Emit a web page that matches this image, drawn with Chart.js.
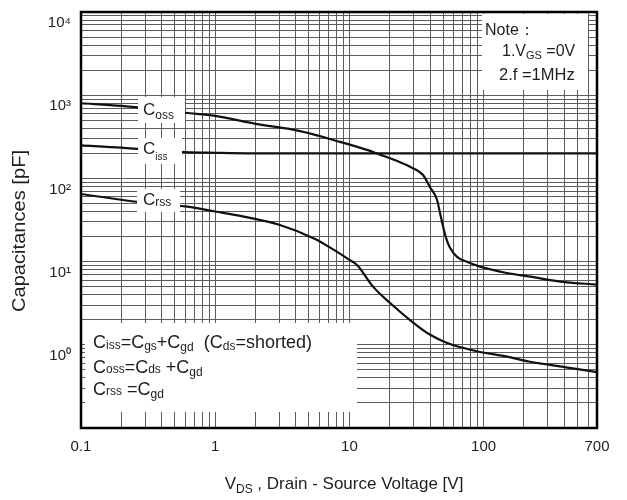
<!DOCTYPE html>
<html><head><meta charset="utf-8">
<script src="https://cdn.jsdelivr.net/npm/chart.js@4.4.1/dist/chart.umd.min.js"></script>
<style>html,body{margin:0;padding:0;background:#fff}#wrap{width:627px;height:500px;position:relative}</style>
</head><body><div id="wrap"><canvas id="c"></canvas></div>
<script>
// ---- data ----
const vdsCoss = [0.1,0.2,0.3,0.6,1,2,4.3,8.5,13.5,16.9,22,28.3,35.4,39.8,45,47.3,49.8,52.5,56.2,63.4,75,94,149,222,389,700];
const coss    = [800,745,700,615,565,453,370,275,220,193,165,138,110,79,55,38.6,26.9,19.3,14.7,11.4,9.95,8.7,7.3,6.6,5.7,5.3];
const vdsCiss = [0.1,0.2,0.3,0.6,1,2,10,100,700];
const ciss    = [250,234,222,207,203,200,200,200,200];
const vdsCrss = [0.1,0.27,0.6,1,1.6,3,5.5,7.2,10,11.4,15,20,30,40,53,70,94,150,222,400,700];
const crss    = [65,52,46,40,35,27.7,18.8,14.7,10.5,9.1,5.0,3.2,1.84,1.32,1.06,0.92,0.82,0.72,0.625,0.54,0.47];
const xTickValues = [0.1,1,10,100,700];
const xTickLabels = ['0.1','1','10','100','700'];
const yTickValues = [1,10,100,1000,10000];
const yTickLabels = ['10\u2070','10\u00b9','10\u00b2','10\u00b3','10\u2074'];
const xMin = 0.1, xMax = 700, yMin = 0.1, yMax = 10000;
const yTitle = 'Capacitances [pF]';

function logGrid(lo, hi){
  const out=[];
  for(let d=Math.pow(10,Math.floor(Math.log10(lo))); d<=hi; d*=10){
    for(let k=1;k<=9;k++){ const v=parseFloat((k*d).toPrecision(6)); if(v>=lo-1e-9 && v<=hi+1e-9) out.push(v); }
  }
  return out;
}
const xGridValues = logGrid(xMin,xMax);
const yGridValues = logGrid(yMin,yMax);
function labelFor(vals, labels, v){
  const i = vals.findIndex(t=>Math.abs(Math.log10(t)-Math.log10(v))<1e-6);
  return i>=0 ? labels[i] : '';
}
const FONT = '"Liberation Sans", Arial, sans-serif';
const INK = '#1e1e1e';
function rich(ctx,x,y,segs){
  let cx=x;
  for(const s of segs){ ctx.font=s[1]+'px '+FONT; ctx.fillText(s[0],cx,y+(s[2]||0)); cx+=ctx.measureText(s[0]).width; }
  return cx;
}
const pts=(xs,ys)=>xs.map((v,i)=>({x:v,y:ys[i]}));

const deco = {
  id:'deco',
  beforeDatasetsDraw(chart){
    const {ctx, chartArea:a} = chart;
    ctx.save(); ctx.fillStyle='#fff';
    ctx.fillRect(a.left+4, a.top+311, 272, 89);
    ctx.fillRect(a.left+401, a.top+2, 106, 76);
    ctx.restore();
  },
  afterDatasetsDraw(chart){
    const {ctx, chartArea:a} = chart;
    ctx.save();
    ctx.fillStyle='#fff';
    ctx.fillRect(a.left+57, a.top+85, 47, 26);
    ctx.fillRect(a.left+57, a.top+126, 44, 26);
    ctx.fillRect(a.left+56, a.top+177, 43, 23);
    ctx.fillStyle=INK; ctx.textBaseline='alphabetic'; ctx.textAlign='left';
    rich(ctx, a.left+62, a.top+103, [['C',17,0],['oss',12,4]]);
    rich(ctx, a.left+62, a.top+142, [['C',17,0],['iss',10,6]]);
    rich(ctx, a.left+62, a.top+193, [['C',17,0],['rss',12,1]]);
    rich(ctx, a.left+404, a.top+23, [['Note\uff1a',16,0]]);
    rich(ctx, a.left+421, a.top+44, [['1.V',16,0],['GS',11,3],[' =0V',16,0]]);
    rich(ctx, a.left+418, a.top+68, [['2.f =1MHz',16.5,0]]);
    rich(ctx, a.left+12, a.top+336, [['C',18,0],['iss',12,1],['=C',18,0],['gs',12,2],['+C',18,0],['gd',12,3],['  (C',18,0],['ds',12,2],['=shorted)',18,0]]);
    rich(ctx, a.left+12, a.top+361, [['C',18,0],['oss',12,0],['=C',18,0],['ds',12,0],[' +C',18,0],['gd',12,3]]);
    rich(ctx, a.left+12, a.top+383, [['C',18,0],['rss',12,0],[' =C',18,0],['gd',12,3]]);
    ctx.strokeStyle='#000'; ctx.lineWidth=2.5;
    ctx.strokeRect(a.left, a.top, a.right-a.left, a.bottom-a.top);
    ctx.restore();
  },
  afterDraw(chart){
    const {ctx, chartArea:a} = chart;
    ctx.save(); ctx.fillStyle=INK; ctx.textBaseline='alphabetic';
    const segs=[['V',17,0],['DS',12,4],[' , Drain - Source Voltage [V]',17,0]];
    let w=0; for(const s of segs){ ctx.font=s[1]+'px '+FONT; w+=ctx.measureText(s[0]).width; }
    rich(ctx, (a.left+a.right)/2 - w/2 + 5, a.bottom+61, segs);
    // y axis title (slightly stretched along its length, like the reference)
    ctx.font='18px '+FONT; ctx.textAlign='center'; ctx.textBaseline='middle';
    const tw = ctx.measureText(yTitle).width;
    ctx.translate(20, (a.top+a.bottom)/2 + 11);
    ctx.rotate(-Math.PI/2);
    ctx.scale(162/tw, 1);
    ctx.fillText(yTitle, 0, 0);
    ctx.restore();
  }
};

const lineStyle = {borderColor:'#111', borderWidth:2.2, pointRadius:0, fill:false, cubicInterpolationMode:'monotone'};
new Chart(document.getElementById('c'), {
  type:'line',
  data:{datasets:[
    Object.assign({label:'Coss', data:pts(vdsCoss,coss)}, lineStyle),
    Object.assign({label:'Ciss', data:pts(vdsCiss,ciss)}, lineStyle),
    Object.assign({label:'Crss', data:pts(vdsCrss,crss)}, lineStyle)
  ]},
  options:{
    responsive:true, maintainAspectRatio:false, animation:false,
    layout:{padding:{top:12,right:30,left:0,bottom:0}},
    plugins:{legend:{display:false}, tooltip:{enabled:false}},
    scales:{
      x:{type:'logarithmic', min:xMin, max:xMax,
        afterBuildTicks(s){ s.ticks = xGridValues.map(v=>({value:v})); },
        afterFit(s){ s.height = 72; s.paddingLeft = 0; s.paddingRight = 0; },
        grid:{color:'#5c5c5c', lineWidth:1, drawTicks:false},
        border:{display:false},
        ticks:{autoSkip:false, maxRotation:0, minRotation:0, padding:10, color:INK,
          font:{family:FONT, size:15},
          callback:(v)=>labelFor(xTickValues,xTickLabels,v)}
      },
      y:{type:'logarithmic', min:yMin, max:yMax,
        afterBuildTicks(s){ s.ticks = yGridValues.map(v=>({value:v})); },
        afterFit(s){ s.width = 81; s.paddingTop = 0; s.paddingBottom = 0; },
        grid:{color:'#5c5c5c', lineWidth:1, drawTicks:false},
        border:{display:false},
        title:{display:false},
        ticks:{autoSkip:false, padding:10, labelOffset:11, color:INK,
          font:{family:FONT, size:15},
          callback:(v)=>labelFor(yTickValues,yTickLabels,v)}
      }
    }
  },
  plugins:[deco]
});
</script></body></html>
